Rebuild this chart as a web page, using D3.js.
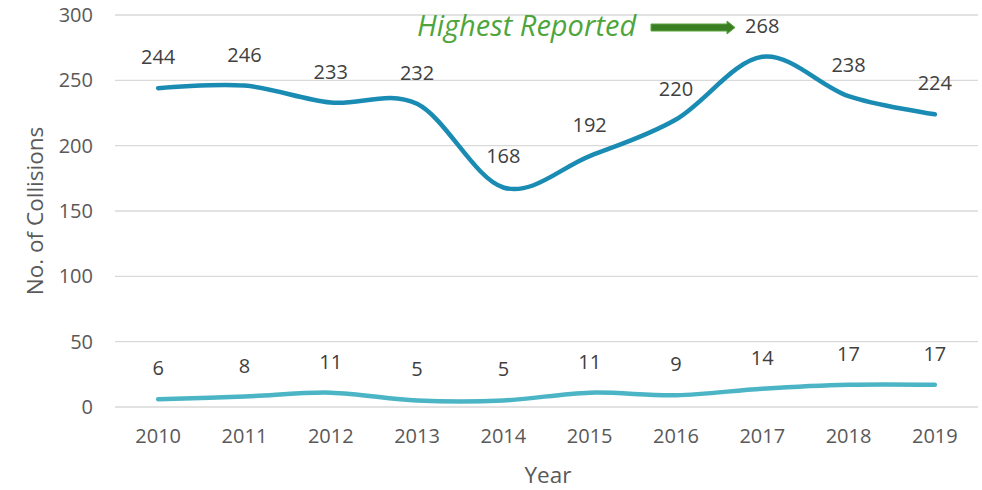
<!DOCTYPE html>
<html>
<head>
<meta charset="utf-8">
<script src="https://cdn.jsdelivr.net/npm/d3@7"></script>
<style>
  body { margin: 0; background: #fff; }
  text { font-family: 'Open Sans', 'Noto Sans', sans-serif; }
</style>
</head>
<body>
<svg id="chart" width="982" height="490"></svg>
<script>
// chart data
const years = ['2010', '2011', '2012', '2013', '2014', '2015', '2016', '2017', '2018', '2019'];
const collisions = [244, 246, 233, 232, 168, 192, 220, 268, 238, 224];
const otherCollisions = [6, 8, 11, 5, 5, 11, 9, 14, 17, 17];
const yTicks = [0, 50, 100, 150, 200, 250, 300];

const upperColor = '#1a8bb3';
const lowerColor = '#4bb5c5';
const textColor = '#595959';
const gridColor = '#d9d9d9';
const noteColor = '#4ea53c';

const margin = { top: 15, right: 4, bottom: 83, left: 115 };
const width = 982 - margin.left - margin.right;
const height = 490 - margin.top - margin.bottom;

const svg = d3.select('#chart');
const g = svg.append('g')
    .attr('transform', 'translate(' + margin.left + ',' + margin.top + ')');

const x = d3.scaleBand()
    .domain(years)
    .range([0, width]);

const y = d3.scaleLinear()
    .domain([0, 300])
    .range([height, 0]);

// gridlines
g.selectAll('.grid')
    .data(yTicks)
    .enter()
    .append('line')
    .attr('x1', 0)
    .attr('x2', width)
    .attr('y1', d => y(d))
    .attr('y2', d => y(d))
    .attr('stroke', gridColor)
    .attr('stroke-width', 1.3);

// y axis labels
const yAxis = g.append('g')
    .call(d3.axisLeft(y).tickValues(yTicks).tickSize(0).tickPadding(22));
yAxis.select('.domain').remove();
yAxis.selectAll('text')
    .attr('fill', textColor)
    .style('font-size', '20px')
    .style('font-family', "'Open Sans', sans-serif");

// x axis labels
const xAxis = g.append('g')
    .attr('transform', 'translate(0,' + height + ')')
    .call(d3.axisBottom(x).tickSize(0).tickPadding(22));
xAxis.select('.domain').remove();
xAxis.selectAll('text')
    .attr('fill', textColor)
    .style('font-size', '20px')
    .style('font-family', "'Open Sans', sans-serif");

const lineGen = d3.line()
    .x((d, i) => x(years[i]) + x.bandwidth() / 2)
    .y(d => y(d))
    .curve(d3.curveCardinal.tension(0));

function drawSeries(values, color) {
    g.append('path')
        .attr('d', lineGen(values))
        .attr('fill', 'none')
        .attr('stroke', color)
        .attr('stroke-width', 4.5)
        .attr('stroke-linecap', 'round');

    g.selectAll(null)
        .data(values)
        .enter()
        .append('text')
        .attr('x', (d, i) => x(years[i]) + x.bandwidth() / 2)
        .attr('y', d => y(d) - 24)
        .attr('text-anchor', 'middle')
        .attr('fill', '#404040')
        .style('font-size', '20px')
        .text(d => d);
}

drawSeries(collisions, upperColor);
drawSeries(otherCollisions, lowerColor);

// annotation
svg.append('text')
    .attr('x', 417)
    .attr('y', 36)
    .attr('fill', noteColor)
    .style('font-size', '29px')
    .style('font-style', 'italic')
    .text('Highest Reported');

svg.append('path')
    .attr('d', 'M651,24 L727,24 L727,21 L735,27.5 L727,34 L727,31 L651,31 Z')
    .attr('fill', '#3b7f24')
    .attr('stroke', '#5aa53c')
    .attr('stroke-width', 1);

// axis titles
svg.append('text')
    .attr('transform', 'translate(43,' + (margin.top + height / 2) + ') rotate(-90)')
    .attr('text-anchor', 'middle')
    .attr('fill', textColor)
    .style('font-size', '22.5px')
    .text('No. of Collisions');

svg.append('text')
    .attr('x', 548)
    .attr('y', 483)
    .attr('text-anchor', 'middle')
    .attr('fill', textColor)
    .style('font-size', '22.5px')
    .text('Year');
</script>
</body>
</html>
